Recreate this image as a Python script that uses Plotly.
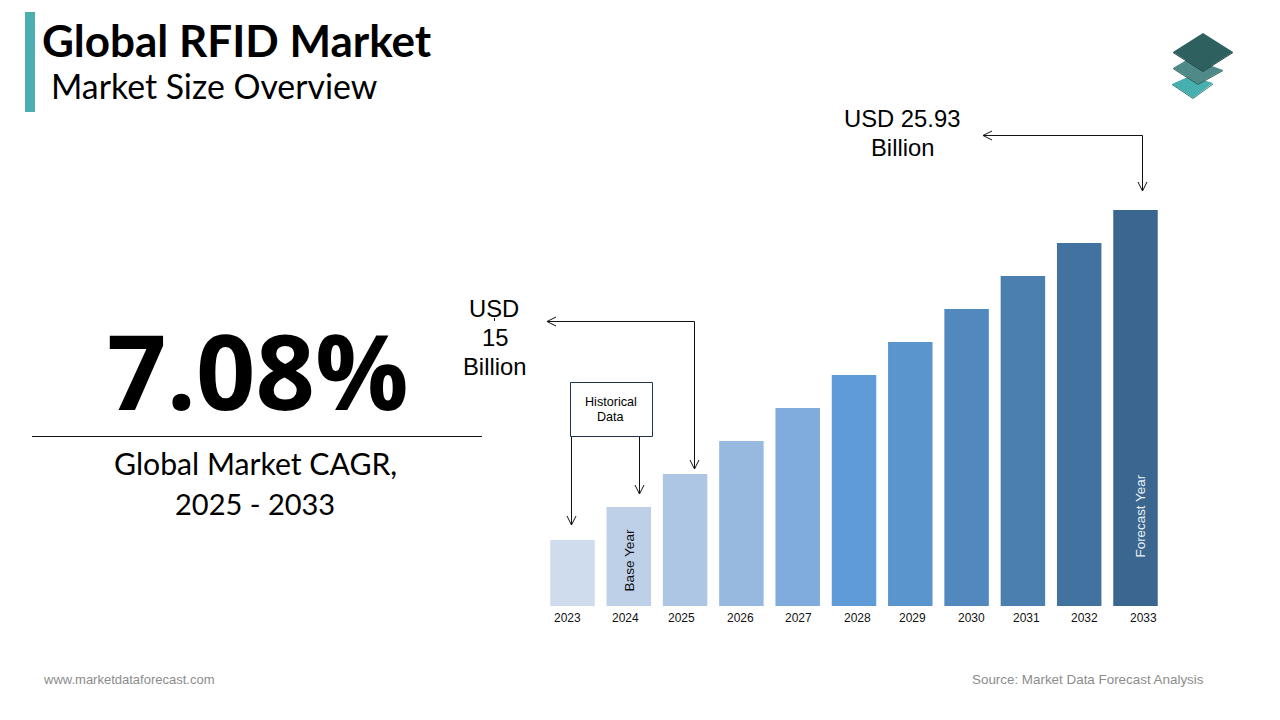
import plotly.graph_objects as go

years = ["2023", "2024", "2025", "2026", "2027", "2028", "2029", "2030", "2031", "2032", "2033"]
values = [4.32, 6.48, 8.64, 10.80, 12.97, 15.13, 17.29, 19.45, 21.61, 23.77, 25.93]
colors = ["#CFDCEE", "#BDD0E8", "#ADC6E3", "#98B9DF", "#7FABDD", "#5F9BD6",
          "#5A95CD", "#5189BE", "#4A7FB0", "#4273A0", "#3A668F"]
label_shift = [-5.5, -3, -4, -1, 1, 3, 2, 5, 4, 5, 8]

W, H = 1280, 720
def X(p): return p / W
def Y(p): return 1 - p / H

fig = go.Figure(go.Bar(x=years, y=values, marker=dict(color=colors, line_width=0), width=0.79))

shapes = []
def line(pts, color="#111111", w=1):
    d = "M" + " L".join(f"{X(a):.5f},{Y(b):.5f}" for a, b in pts)
    shapes.append(dict(type="path", xref="paper", yref="paper", path=d, line=dict(color=color, width=w)))
def poly(pts, fill):
    d = "M" + " L".join(f"{X(a):.5f},{Y(b):.5f}" for a, b in pts) + " Z"
    shapes.append(dict(type="path", xref="paper", yref="paper", path=d, fillcolor=fill, line_width=0))
def arrow_down(x, y):
    line([(x - 4.5, y - 9), (x, y), (x + 4.5, y - 9)])
def arrow_left(x, y):
    line([(x + 9, y - 4.5), (x, y), (x + 9, y + 4.5)])

# accent bar and logo
shapes.append(dict(type="rect", xref="paper", yref="paper", x0=X(25), x1=X(35), y0=Y(112), y1=Y(12),
                   fillcolor="#4BAEAF", line_width=0))
poly([(1172, 84), (1190, 76), (1213, 83), (1193, 98)], "#47AFAD")
line([(1172, 84.5), (1193, 98.5), (1213, 84)], "#2F7F7F", 1)
poly([(1173, 68), (1190, 58), (1223, 70), (1198, 84)], "#4F8A88")
line([(1173, 68.5), (1198, 84.5), (1223, 70.5)], "#2F5F5E", 1)
poly([(1173, 52), (1203, 33), (1233, 52), (1203, 71)], "#2F6060")
line([(1173, 52.5), (1203, 71.5), (1233, 52.5)], "#1F4546", 1)

# rule under the CAGR
line([(32, 436.5), (482, 436.5)], "#111111", 1)

# arrows
line([(983, 135.5), (1142.5, 135.5), (1142.5, 191)])
arrow_left(983, 135.5); arrow_down(1142.5, 191)
line([(547, 321.5), (694.5, 321.5), (694.5, 469)])
arrow_left(547, 321.5); arrow_down(694.5, 469)
line([(571.5, 437), (571.5, 525)]); arrow_down(571.5, 525)
line([(639.5, 437), (639.5, 494)]); arrow_down(639.5, 494)
line([(494.5, 318), (494.5, 321)])
shapes.append(dict(type="rect", xref="paper", yref="paper", x0=X(570.5), x1=X(652.5), y0=Y(436.5), y1=Y(382.5),
                   fillcolor="white", line=dict(color="#1F3550", width=1)))

anns = []
def text(x, y, s, size, font="Liberation Sans", color="#000000", angle=0, anchor="center"):
    anns.append(dict(xref="paper", yref="paper", x=X(x), y=Y(y), text=s, showarrow=False, xanchor=anchor,
                     yanchor="middle", textangle=angle, font=dict(family=font, size=size, color=color)))

text(40, 40, "<b>Global RFID Market</b>", 44, "Lato", anchor="left")
text(49, 86, "Market Size Overview", 33.8, "Lato", anchor="left")
text(258, 369.5, "<b>7.08%</b>", 104, "Open Sans")
text(255.5, 463, "Global Market CAGR,", 30.2, "Lato")
text(255, 503, "2025 - 2033", 29, "Lato")
text(902, 118.5, "USD 25.93", 23.8)
text(902.5, 147.5, "Billion", 23.8)
text(494, 308.5, "USD", 23.8)
text(494.5, 337.5, "15", 23.8)
text(494.5, 366.5, "Billion", 23.8)
text(611, 401.5, "Historical", 12.6)
text(610.5, 417, "Data", 12.6)
text(628.5, 561, "Base Year", 13.6, angle=-90, color="#111111")
text(1139.5, 516, "Forecast Year", 13.4, angle=-90, color="#E8EEF5")
text(41, 679, "www.marketdataforecast.com", 13, color="#8C8C8C", anchor="left")
text(1206, 679, "Source: Market Data Forecast Analysis", 13.4, color="#8C8C8C", anchor="right")

for i, (yr, dx) in enumerate(zip(years, label_shift)):
    anns.append(dict(xref="x", yref="paper", x=i, y=Y(618), text=yr, showarrow=False, xshift=dx,
                     yanchor="middle", font=dict(family="Liberation Sans", size=12, color="#111111")))

fig.update_layout(
    width=W, height=H, margin=dict(l=0, r=0, t=0, b=0), showlegend=False,
    paper_bgcolor="white", plot_bgcolor="white", shapes=shapes, annotations=anns, bargap=0.21,
    xaxis=dict(domain=[X(544.35), X(1163.65)], type="category", range=[-0.5, 10.5], categoryorder="array",
               categoryarray=years, showgrid=False, zeroline=False,
               showticklabels=False, ticks="", showline=False),
    yaxis=dict(domain=[Y(606), Y(606 - 396 * 30 / 25.93)], range=[0, 30], showgrid=False, zeroline=False,
               showticklabels=False, ticks="", showline=False),
)
fig.write_html("out.html", post_script="document.body.style.margin='0';document.body.style.overflow='hidden';",
               config={"displayModeBar": False})
